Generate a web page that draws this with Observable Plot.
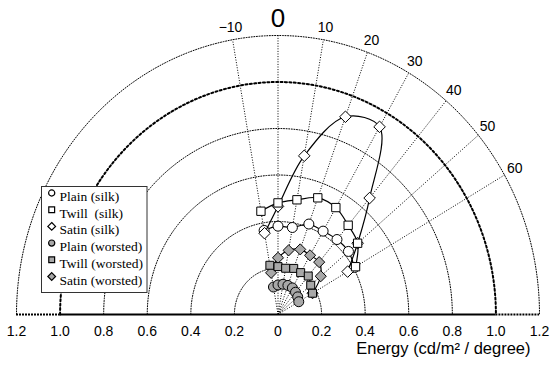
<!DOCTYPE html>
<html><head><meta charset="utf-8">
<script src="https://cdn.jsdelivr.net/npm/d3@7"></script>
<script src="https://cdn.jsdelivr.net/npm/@observablehq/plot@0.6"></script>
<style>
body{margin:0;background:#fff;}
#wrap{position:relative;width:557px;height:367px;overflow:hidden;background:#fff;}
#wrap svg.leg{position:absolute;left:0;top:0;}
</style></head><body><div id="wrap"></div>
<script>
// ---- data ----
const angles = [-10, 0, 10, 20, 30, 40, 50, 60];            // degrees from vertical
const angleLabels = ["\u221210", "0", "10", "20", "30", "40", "50", "60"];
const ringRadii = [0.2, 0.4, 0.6, 0.8, 1.2];
const mainRing = [1.0];
const xTicks = [-1.2, -1.0, -0.8, -0.6, -0.4, -0.2, 0, 0.2, 0.4, 0.6, 0.8, 1.0, 1.2];
const axisTitle = ["Energy (cd/m\u00b2 / degree)"];
const seriesNames = ["Plain (silk)", "Twill  (silk)", "Satin (silk)", "Plain (worsted)", "Twill (worsted)", "Satin (worsted)"];
const plainSilk    = [0.367, 0.380, 0.380, 0.414, 0.414, 0.421, 0.422, 0.405];
const twillSilk    = [0.451, 0.480, 0.501, 0.534, 0.531, 0.501, 0.477, 0.411];
const satinSilk    = [0.355, 0.465, 0.693, 0.905, 0.932, 0.654, 0.477, 0.369];
const plainWorsted = [0.120, 0.127, 0.132, 0.133, 0.132, 0.125, 0.118, 0.110];
const twillWorsted = [0.215, 0.206, 0.202, 0.211, 0.208, 0.216, 0.196, 0.183];
const satinWorsted = [0.182, 0.244, 0.280, 0.298, 0.294, 0.294, 0.256, 0.183];

// ---- styles ----
const GRAY = "#a8a8a8";
const seriesValues = [plainSilk, twillSilk, satinSilk, plainWorsted, twillWorsted, satinWorsted];
const seriesSymbol = ["circle", "square", "diamond2", "circle", "square", "diamond2"];
const seriesFill = ["white", "white", "white", GRAY, GRAY, GRAY];
const seriesR = [5, 4.7, 5.2, 5, 4.5, 5];
const drawOrder = [3, 5, 4, 0, 2, 1];

const rad = Math.PI / 180;
const px = (r, a) => r * Math.sin(a * rad);
const py = (r, a) => r * Math.cos(a * rad);

const rows = seriesValues.map((vals, s) => vals.map((r, i) => ({s, a: angles[i], r})));
const arcPts = rr => rr.flatMap(r => d3.range(-90, 90.001, 1).map(t => ({r, t})));

const marks = [
  Plot.line(arcPts(ringRadii), {x: d => px(d.r, d.t), y: d => py(d.r, d.t), z: "r", stroke: "black", strokeWidth: 1, strokeDasharray: "1,1.6"}),
  Plot.line(arcPts(mainRing), {x: d => px(d.r, d.t), y: d => py(d.r, d.t), z: "r", stroke: "black", strokeWidth: 2, strokeDasharray: "2,2.4"}),
  Plot.link(angles, {x1: 0, y1: 0, x2: a => px(1.2, a), y2: a => py(1.2, a), stroke: "black", strokeWidth: 1, strokeDasharray: "1,1.6"}),
  Plot.ruleY([0], {x1: -1.0, x2: 1.0, stroke: "black", strokeWidth: 2.2}),
  Plot.ruleY([0], {x1: -1.2, x2: -1.0, stroke: "black", strokeWidth: 2.2, strokeDasharray: "2,1"}),
  Plot.ruleY([0], {x1: 1.0, x2: 1.2, stroke: "black", strokeWidth: 2.2, strokeDasharray: "2,1"}),
];
for (const s of drawOrder) {
  marks.push(Plot.line(rows[s], {x: d => px(d.r, d.a), y: d => py(d.r, d.a), curve: "catmull-rom", stroke: "black", strokeWidth: 1.2}));
  marks.push(Plot.dot(rows[s], {x: d => px(d.r, d.a), y: d => py(d.r, d.a), symbol: seriesSymbol[s], r: seriesR[s], fill: seriesFill[s], stroke: "black", strokeWidth: 1}));
}
marks.push(
  Plot.text(angles.filter(a => a !== 0), {x: a => px(1.255, a), y: a => py(1.255, a), text: a => angleLabels[angles.indexOf(a)], fontSize: 14, fill: "black"}),
  Plot.text(angles.filter(a => a === 0), {x: a => px(1.273, a), y: a => py(1.273, a), text: a => angleLabels[angles.indexOf(a)], fontSize: 26, fill: "black"}),
  Plot.axisX({ticks: xTicks, tickFormat: d => d === 0 ? "0" : Math.abs(d).toFixed(1), tickSize: 0, tickPadding: 12, fontSize: 14, label: null}),
  Plot.text(axisTitle, {text: d => d, frameAnchor: "bottom-right", dx: -9, dy: 39, textAnchor: "end", fontSize: 16.5, fill: "black"})
);

const chart = Plot.plot({
  width: 557, height: 367,
  marginLeft: 16, marginRight: 18, marginTop: 35, marginBottom: 53,
  x: {domain: [-1.2, 1.2]},
  y: {domain: [0, 1.2], axis: null},
  style: {fontFamily: "'Liberation Sans', Arial, sans-serif", fontSize: "14px", color: "black", background: "white", overflow: "visible"},
  marks
});
document.getElementById("wrap").appendChild(chart);

// ---- legend (inside the plot area, as in the reference) ----
const symMap = {circle: d3.symbolCircle, square: d3.symbolSquare, diamond2: d3.symbolDiamond2};
const symSize = {circle: 30, square: 34, diamond2: 38};
const leg = d3.select("#wrap").append("svg").attr("class", "leg").attr("width", 557).attr("height", 367);
leg.append("rect").attr("x", 41.5).attr("y", 186.5).attr("width", 105.5).attr("height", 106).attr("fill", "white").attr("stroke", "#333").attr("stroke-width", 1);
seriesNames.forEach((name, i) => {
  const base = 201 + i * 16.7;
  leg.append("path").attr("transform", `translate(51.7,${base - 8})`)
    .attr("d", d3.symbol(symMap[seriesSymbol[i]], symSize[seriesSymbol[i]])())
    .attr("fill", seriesFill[i]).attr("stroke", "black").attr("stroke-width", 1.2);
  leg.append("text").attr("x", 59.5).attr("y", base).text(name)
    .attr("font-family", "'Liberation Serif', 'Times New Roman', serif").attr("font-size", 13.5)
    .attr("fill", "black").style("white-space", "pre");
});
</script></body></html>
